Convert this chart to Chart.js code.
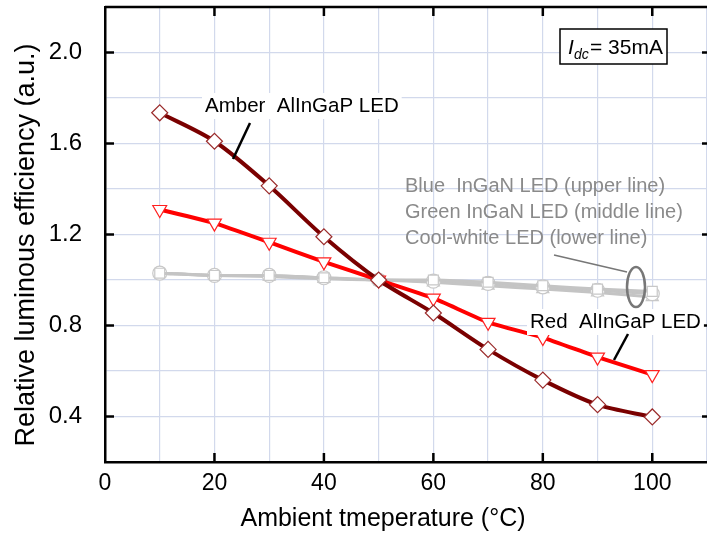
<!DOCTYPE html>
<html>
<head>
<meta charset="utf-8">
<script src="https://cdn.jsdelivr.net/npm/chart.js@4.4.1/dist/chart.umd.min.js"></script>
<style>
html,body{margin:0;padding:0;background:#fff;}
#wrap{width:707px;height:540px;}
canvas{display:block;}
</style>
</head>
<body>
<div id="wrap"><canvas id="c" width="707" height="540"></canvas></div>
<script>
const temperatures = [10, 20, 30, 40, 50, 60, 70, 80, 90, 100];
const amberAlInGaP = [1.735, 1.61, 1.414, 1.19, 1.0, 0.855, 0.695, 0.56, 0.452, 0.398];
const redAlInGaP = [1.31, 1.25, 1.166, 1.08, 1.0, 0.92, 0.814, 0.747, 0.661, 0.584];
const blueInGaN = [1.03, 1.02, 1.02, 1.01, 1.0, 1.0, 0.99, 0.975, 0.96, 0.95];
const greenInGaN = [1.03, 1.02, 1.02, 1.01, 1.0, 0.995, 0.985, 0.97, 0.955, 0.94];
const coolWhite = [1.03, 1.02, 1.015, 1.005, 1.0, 0.99, 0.975, 0.96, 0.945, 0.925];
const xTickLabels = [0, 20, 40, 60, 80, 100];
const yTickLabels = [0.4, 0.8, 1.2, 1.6, 2.0];
const seriesNames = ['Amber  AlInGaP LED', 'Red  AlInGaP LED', 'Blue  InGaN LED (upper line)', 'Green InGaN LED (middle line)', 'Cool-white LED (lower line)'];
const xTitle = 'Ambient tmeperature (°C)';
const yTitle = 'Relative luminous efficiency (a.u.)';

function pts(ys){ return temperatures.map((x,i)=>({x:x,y:ys[i]})); }

const FONT = "'Liberation Sans', Arial, sans-serif";
const grayBase = {borderColor:'#c4c4c4', borderWidth:3, pointBackgroundColor:'#ffffff', pointBorderColor:'#c8c8c8', pointBorderWidth:1.2, pointRadius:7, tension:0.2};

const annot = {
  id:'annot',
  afterDraw(chart){
    const ctx = chart.ctx, xs = chart.scales.x, ys = chart.scales.y, a = chart.chartArea;
    ctx.save();
    ctx.strokeStyle='#000'; ctx.lineWidth=2.5;
    xTickLabels.forEach(v=>{
      if(v===0) return;
      const px = xs.getPixelForValue(v);
      ctx.beginPath(); ctx.moveTo(px,a.bottom); ctx.lineTo(px,a.bottom-9); ctx.stroke();
      ctx.beginPath(); ctx.moveTo(px,a.top); ctx.lineTo(px,a.top+9); ctx.stroke();
    });
    yTickLabels.forEach(v=>{
      const py = ys.getPixelForValue(v);
      ctx.beginPath(); ctx.moveTo(a.left,py); ctx.lineTo(a.left+9,py); ctx.stroke();
      ctx.beginPath(); ctx.moveTo(a.right,py); ctx.lineTo(a.right-5,py); ctx.stroke();
    });
    ctx.lineWidth=2.5;
    ctx.beginPath(); ctx.moveTo(a.left,a.top); ctx.lineTo(a.right,a.top); ctx.stroke();

    ctx.fillStyle='#000'; ctx.textAlign='center'; ctx.textBaseline='middle';
    ctx.font='25px '+FONT;
    ctx.fillText(xTitle, 383, 519);
    ctx.save();
    ctx.translate(27, 245); ctx.rotate(-Math.PI/2);
    ctx.font='27px '+FONT;
    ctx.fillText(yTitle, 0, 0);
    ctx.restore();
    ctx.textAlign='left';

    ctx.font='20.5px '+FONT; ctx.textBaseline='middle';
    const amberLblX = 205, amberLblY = 106;
    ctx.fillStyle='#fff'; ctx.fillRect(amberLblX-3, amberLblY-13, ctx.measureText(seriesNames[0]).width+6, 26);
    ctx.fillStyle='#000'; ctx.fillText(seriesNames[0], amberLblX, amberLblY);
    ctx.lineWidth=2.5; ctx.strokeStyle='#000';
    ctx.beginPath(); ctx.moveTo(250,123); ctx.lineTo(233,159); ctx.stroke();

    const redLblX = 530, redLblY = 322;
    ctx.fillStyle='#fff'; ctx.fillRect(redLblX-3, redLblY-13, ctx.measureText(seriesNames[1]).width+6, 26);
    ctx.fillStyle='#000'; ctx.fillText(seriesNames[1], redLblX, redLblY);
    ctx.beginPath(); ctx.moveTo(628,334); ctx.lineTo(614,360); ctx.stroke();

    ctx.font='20px '+FONT; ctx.fillStyle='#8a8a8a';
    ctx.fillText(seriesNames[2], 405, 186);
    ctx.fillText(seriesNames[3], 405, 212);
    ctx.fillText(seriesNames[4], 405, 238);
    ctx.strokeStyle='#777'; ctx.lineWidth=1.5;
    ctx.beginPath(); ctx.moveTo(554,255); ctx.lineTo(627,272); ctx.stroke();
    ctx.lineWidth=2.5;
    ctx.beginPath(); ctx.ellipse(636, 287, 9, 20, 0, 0, Math.PI*2); ctx.stroke();

    ctx.fillStyle='#fff'; ctx.fillRect(560,29,107,35);
    ctx.strokeStyle='#000'; ctx.lineWidth=1.5; ctx.strokeRect(560,29,107,35);
    ctx.fillStyle='#000';
    ctx.font='italic 21px '+FONT; ctx.textBaseline='alphabetic';
    ctx.fillText('I', 568, 54);
    ctx.font='italic 14px '+FONT;
    ctx.fillText('dc', 574, 59);
    ctx.font='21px '+FONT;
    ctx.fillText('= 35mA', 590, 54);
    ctx.restore();
  }
};

new Chart(document.getElementById('c'), {
  type:'line',
  data:{
    datasets:[
      {label:seriesNames[0], data:pts(amberAlInGaP), borderColor:'#7a0000', borderWidth:4, pointStyle:'rectRot', pointRadius:8, pointBackgroundColor:'#fff', pointBorderColor:'#9a2a2a', pointBorderWidth:1.2, tension:0.3, order:1},
      {label:seriesNames[1], data:pts(redAlInGaP), borderColor:'#ff0000', borderWidth:4, pointStyle:'triangle', pointRotation:180, pointRadius:8, pointBackgroundColor:'#fff', pointBorderColor:'#ff2020', pointBorderWidth:1.2, tension:0.15, order:2},
      Object.assign({label:seriesNames[2], data:pts(blueInGaN), pointStyle:'rect', order:3}, grayBase),
      Object.assign({label:seriesNames[3], data:pts(greenInGaN), pointStyle:'circle', order:4}, grayBase),
      Object.assign({label:seriesNames[4], data:pts(coolWhite), pointStyle:'triangle', order:5}, grayBase)
    ]
  },
  options:{
    responsive:false, animation:false, devicePixelRatio:1,
    layout:{autoPadding:false, padding:{top:7, right:0, left:0, bottom:0}},
    plugins:{legend:{display:false}, tooltip:{enabled:false}},
    scales:{
      x:{
        type:'linear', min:0, max:110,
        afterFit(s){ s.height = 78; s.paddingLeft = 0; s.paddingRight = 0; },
        ticks:{stepSize:10, padding:8, color:'#000', font:{family:FONT, size:23}, maxRotation:0, autoSkip:false,
          callback:(v)=> xTickLabels.includes(Math.round(v)) ? String(Math.round(v)) : ''},
        grid:{color:'#d2d9ec', lineWidth:1.2, drawTicks:false},
        border:{color:'#000', width:2.5},
        title:{display:false, text:xTitle}
      },
      y:{
        type:'linear', min:0.2, max:2.2,
        afterFit(s){ s.width = 105; s.paddingTop = 0; s.paddingBottom = 0; },
        ticks:{stepSize:0.2, padding:23, color:'#000', font:{family:FONT, size:24}, autoSkip:false,
          callback:(v)=>{ const r = Math.round(v*10)/10; return yTickLabels.some(t=>Math.abs(t-r)<1e-6) ? r.toFixed(1) : ''; }},
        grid:{color:'#d2d9ec', lineWidth:1.2, drawTicks:false},
        border:{color:'#000', width:2.5},
        title:{display:false, text:yTitle}
      }
    }
  },
  plugins:[annot]
});
</script>
</body>
</html>
